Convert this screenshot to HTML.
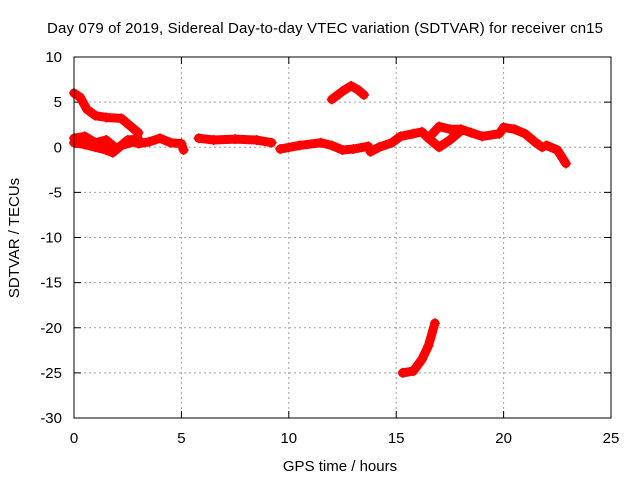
<!DOCTYPE html>
<html><head><meta charset="utf-8"><style>
html,body{margin:0;padding:0;background:#fff}
svg{display:block;font-family:"Liberation Sans",sans-serif}
</style></head><body>
<svg id="c" width="640" height="480" viewBox="0 0 640 480">
<rect width="640" height="480" fill="#fff"/>
<text x="325" y="33" font-size="15" text-anchor="middle" textLength="556">Day 079 of 2019, Sidereal Day-to-day VTEC variation (SDTVAR) for receiver cn15</text>
<text x="340" y="471" font-size="15" text-anchor="middle">GPS time / hours</text>
<text transform="translate(19,238) rotate(-90)" font-size="15" text-anchor="middle">SDTVAR / TECUs</text>
<g id="grid"></g><g id="ticks"></g><g id="series"></g>
<rect x="74" y="57" width="537" height="361" fill="none" stroke="#000" stroke-width="1"/>
</svg>
<script>
const xTicks=[0,5,10,15,20,25];
const yTicks=[10,5,0,-5,-10,-15,-20,-25,-30];
const segDescend=[[0,6],[0.3,5.5],[0.6,4.2],[1,3.5],[1.5,3.3],[2.2,3.2],[2.7,2.2],[3.0,1.6]];
const segLowA=[[0,0.5],[0.5,0.3],[1,0],[1.5,-0.3],[1.8,-0.6],[2.2,0.2],[2.8,0.6],[3.0,0.5]];
const segLowB=[[0,1],[0.5,1.2],[1,0.5],[1.5,0.8],[2,-0.2],[2.5,0.8],[3,0.9]];
const segMorning=[[3.0,0.4],[3.5,0.6],[4,1.0],[4.5,0.5],[5.0,0.4],[5.1,-0.3]];
const segMid=[[5.8,1.0],[6.5,0.8],[7.5,0.9],[8.5,0.8],[9.2,0.5]];
const segNoon=[[9.6,-0.2],[10.5,0.2],[11.5,0.5],[12,0.2],[12.5,-0.3],[13,-0.2],[13.7,0.1]];
const segArc=[[12,5.3],[12.5,6.2],[12.9,6.8],[13.2,6.4],[13.5,5.8]];
const segAfternoon=[[13.8,-0.5],[14.2,0],[14.8,0.5],[15.2,1.2],[15.8,1.5],[16.2,1.7],[16.5,1.0],[17,2.3],[17.5,2.0],[18,2.0],[18.5,1.6],[19,1.2],[19.8,1.5],[20,2.2],[20.5,2.0],[21,1.5],[21.5,0.5],[21.8,0.0]];
const segLoop=[[16.5,1.0],[17,0.0],[17.5,0.8],[18,1.8]];
const segEnd=[[22,0.2],[22.5,-0.3],[22.9,-1.8]];
const segNegative=[[15.3,-25],[15.8,-24.8],[16.2,-23.5],[16.5,-22],[16.8,-19.5]];
const allSegs=[segDescend,segLowA,segLowB,segMorning,segMid,segNoon,segArc,segAfternoon,segLoop,segEnd,segNegative];
const X=v=>74+v*537/25, Y=v=>57+(10-v)*361/40;
const NS="http://www.w3.org/2000/svg";
const g=document.getElementById('grid'),t=document.getElementById('ticks'),s=document.getElementById('series');
function mk(tag,a,p){const e=document.createElementNS(NS,tag);for(const k in a)e.setAttribute(k,a[k]);p.appendChild(e);return e;}
xTicks.forEach(v=>{const x=X(v);
 if(v>0&&v<25){const l=mk('line',{x1:x,x2:x,y1:57,y2:418,stroke:'#a0a0a0','stroke-dasharray':'2,3'},g);
 
 }
 mk('line',{x1:x,x2:x,y1:418,y2:411,stroke:'#000'},t);mk('line',{x1:x,x2:x,y1:57,y2:64,stroke:'#000'},t);
 const tx=mk('text',{x:x,y:443,'font-size':15,'text-anchor':'middle'},t);tx.textContent=v;
 
 });
yTicks.forEach(v=>{const y=Y(v);
 if(v<10&&v>-30){const l=mk('line',{x1:74,x2:611,y1:y,y2:y,stroke:'#a0a0a0','stroke-dasharray':'2,3'},g);
 
 }
 mk('line',{x1:74,x2:81,y1:y,y2:y,stroke:'#000'},t);mk('line',{x1:611,x2:604,y1:y,y2:y,stroke:'#000'},t);
 const tx=mk('text',{x:62,y:y+5,'font-size':15,'text-anchor':'end'},t);tx.textContent=v;
 
 });
allSegs.forEach(seg=>{
 const p=mk('polyline',{points:seg.map(d=>X(d[0])+','+Y(d[1])).join(' '),fill:'none',stroke:'#f00','stroke-width':9,'stroke-linejoin':'round','stroke-linecap':'round'},s);
 
 
 seg.forEach(d=>{const x=X(d[0]),y=Y(d[1]);
  const m=mk('path',{d:`M${x-5},${y}H${x+5}M${x},${y-5}V${y+5}`,stroke:'#f00','stroke-width':1.5},s);
  
  });
});
</script>
</body></html>
